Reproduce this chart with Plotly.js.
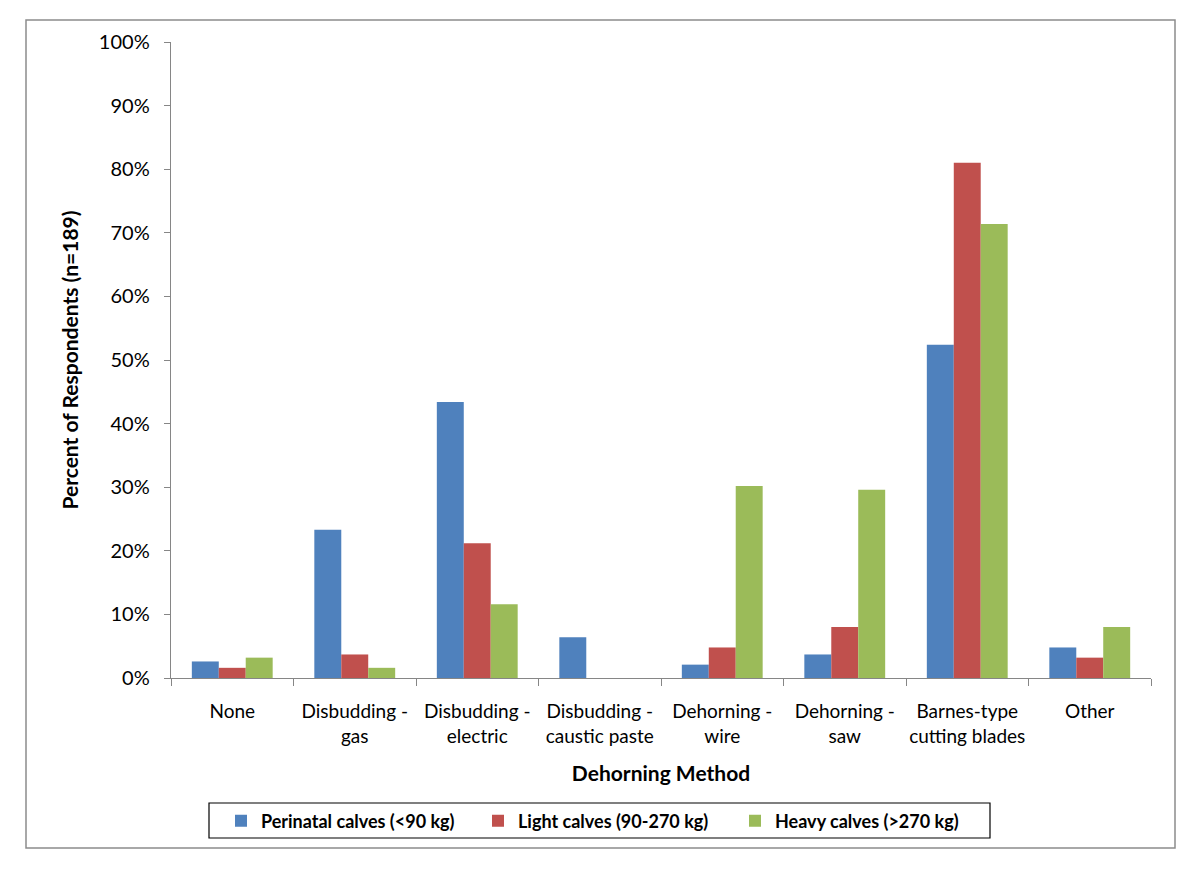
<!DOCTYPE html>
<html>
<head>
<meta charset="utf-8">
<script src="https://cdn.plot.ly/plotly-3.0.1.min.js"></script>
<style>
html,body{margin:0;padding:0;background:#fff;}
#chart{width:1200px;height:874px;}
</style>
</head>
<body>
<div id="chart"></div>
<script>
var categories = ["None", "Disbudding -<br>gas", "Disbudding -<br>electric", "Disbudding -<br>caustic paste", "Dehorning -<br>wire", "Dehorning -<br>saw", "Barnes-type<br>cutting blades", "Other"];
var perinatal = [0.026, 0.233, 0.434, 0.064, 0.021, 0.037, 0.524, 0.048];
var light = [0.016, 0.037, 0.212, 0, 0.048, 0.080, 0.810, 0.032];
var heavy = [0.032, 0.016, 0.116, 0, 0.302, 0.296, 0.714, 0.080];
var seriesNames = ["Perinatal calves (<90 kg)", "Light calves (90-270 kg)", "Heavy calves (>270 kg)"];
var yTickVals = [0, 0.1, 0.2, 0.3, 0.4, 0.5, 0.6, 0.7, 0.8, 0.9, 1.0];

var colors = ["#4F81BD", "#C0504D", "#9BBB59"];
var seriesData = [perinatal, light, heavy];
var traces = seriesData.map(function(d, i){
  return {type:"bar", x:categories, y:d, name:"<b>"+seriesNames[i]+"</b>", marker:{color:colors[i]}};
});

var font = "Lato, 'Open Sans', sans-serif";
var L=171, R=49, T=42, B=196, W=1200, H=874;
var pw = W-L-R, ph = H-T-B;
function px(x){return (x-L)/pw;}
function py(y){return (H-B-y)/ph;}

var layout = {
  width:W, height:H,
  margin:{l:L, r:R, t:T, b:B, pad:0},
  paper_bgcolor:"#fff", plot_bgcolor:"#fff",
  barmode:"group", bargap:0.34, bargroupgap:0,
  font:{family:font, color:"#000"},
  xaxis:{
    type:"category", showline:true, linecolor:"#868686", linewidth:1.3,
    ticks:"outside", tickson:"boundaries", ticklen:7, tickcolor:"#868686",
    tickfont:{size:19, family:font}, tickangle:0, showgrid:false, zeroline:false,
    ticklabelstandoff:16,
    title:{text:"<b>Dehorning Method</b>", font:{size:21, family:font}, standoff:20},
    automargin:false
  },
  yaxis:{
    range:[0,1.0], tickvals:yTickVals, tickformat:".0%",
    showline:true, linecolor:"#868686", linewidth:1.3,
    ticks:"outside", ticklen:6, tickcolor:"#868686",
    tickfont:{size:20, family:font}, showgrid:false, zeroline:false,
    ticklabelstandoff:10,
    title:{text:"<b>Percent of Respondents (n=189)</b>", font:{size:21, family:font}, standoff:14},
    automargin:false
  },
  showlegend:true,
  legend:{
    orientation:"h", x:px(221), xanchor:"left", y:py(821), yanchor:"middle",
    borderwidth:0, bgcolor:"rgba(0,0,0,0)",
    font:{size:18, family:font}, traceorder:"normal",
    entrywidth:212
  },
  shapes:[
    {type:"rect", xref:"paper", yref:"paper", x0:px(26), x1:px(1175), y0:py(20), y1:py(848),
     line:{color:"#8c8c8c", width:1.5}, fillcolor:"rgba(0,0,0,0)", layer:"below"},
    {type:"rect", xref:"paper", yref:"paper", x0:px(209), x1:px(990), y0:py(803), y1:py(838),
     line:{color:"#000", width:1.2}, fillcolor:"rgba(0,0,0,0)", layer:"below"}
  ]
};

Plotly.newPlot("chart", traces, layout, {displayModeBar:false, staticPlot:true});
</script>
</body>
</html>
